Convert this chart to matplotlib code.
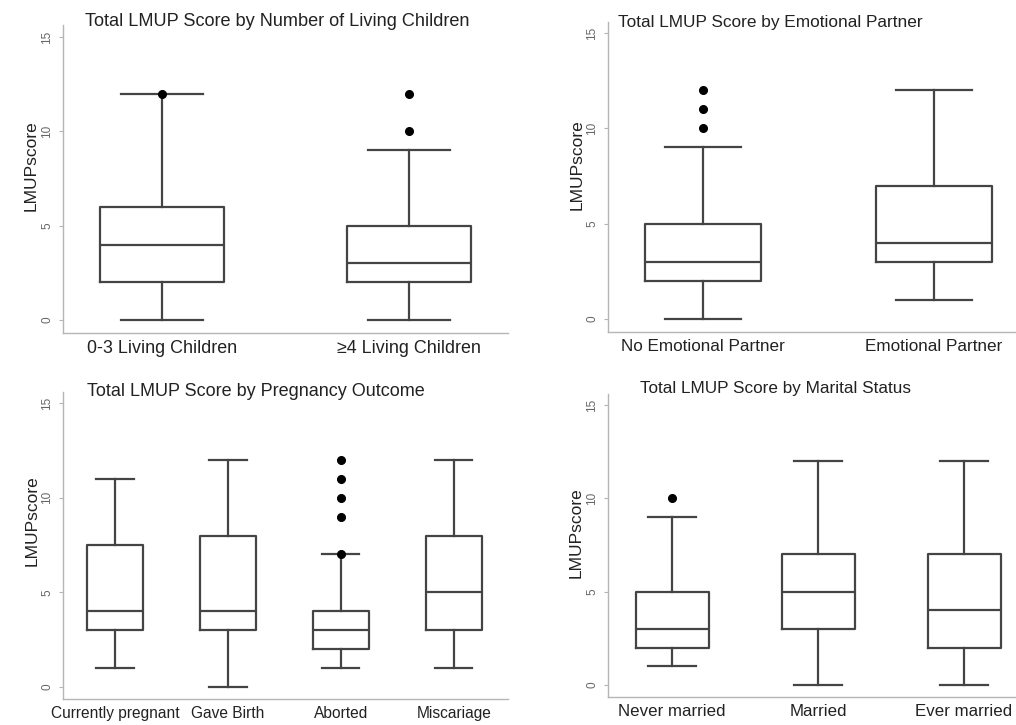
import matplotlib
matplotlib.use("Agg")
import matplotlib.pyplot as plt

plt.rcParams['font.family'] = ['Liberation Sans', 'DejaVu Sans']

# ---- Data ----
titles = [
    "Total LMUP Score by Number of Living Children",
    "Total LMUP Score by Emotional Partner",
    "Total LMUP Score by Pregnancy Outcome",
    "Total LMUP Score by Marital Status",
]

children_labels = ["0-3 Living Children", "\u22654 Living Children"]
children_whislo = [0, 0]
children_q1 = [2, 2]
children_med = [4, 3]
children_q3 = [6, 5]
children_whishi = [12, 9]
children_fliers = [[12], [10, 12]]

partner_labels = ["No Emotional Partner", "Emotional Partner"]
partner_whislo = [0, 1]
partner_q1 = [2, 3]
partner_med = [3, 4]
partner_q3 = [5, 7]
partner_whishi = [9, 12]
partner_fliers = [[10, 11, 12], []]

outcome_labels = ["Currently pregnant", "Gave Birth", "Aborted", "Miscariage"]
outcome_whislo = [1, 0, 1, 1]
outcome_q1 = [3, 3, 2, 3]
outcome_med = [4, 4, 3, 5]
outcome_q3 = [7.5, 8, 4, 8]
outcome_whishi = [11, 12, 7, 12]
outcome_fliers = [[], [], [7, 9, 10, 11, 12], []]

marital_labels = ["Never married", "Married", "Ever married"]
marital_whislo = [1, 0, 0]
marital_q1 = [2, 3, 2]
marital_med = [3, 5, 4]
marital_q3 = [5, 7, 7]
marital_whishi = [9, 12, 12]
marital_fliers = [[10], [], []]

yticks = [0, 5, 10, 15]
ylabel = "LMUPscore"

W, H = 1016, 725
fig = plt.figure(figsize=(W / 100, H / 100), dpi=100)


def px_axes(left, right, top, bottom):
    return fig.add_axes([left / W, 1 - bottom / H, (right - left) / W, (bottom - top) / H])


LINE = "#444444"
SPINE = "#b5b5b5"

panels = [
    dict(rect=(63, 508, 25, 333), xlim=(0.6, 2.4), ylim=(-0.69, 15.64),
         labels=children_labels, lo=children_whislo, q1=children_q1, med=children_med,
         q3=children_q3, hi=children_whishi, fl=children_fliers,
         tpx=(277, 22), ylab=(31, 166), tfs=13.1, xfs=12.9),
    dict(rect=(608, 1016, 22, 332), xlim=(0.589, 2.355), ylim=(-0.68, 15.58),
         labels=partner_labels, lo=partner_whislo, q1=partner_q1, med=partner_med,
         q3=partner_q3, hi=partner_whishi, fl=partner_fliers,
         tpx=(770, 23), ylab=(577, 165), tfs=12.4, xfs=12.3),
    dict(rect=(63, 508, 392, 699), xlim=(0.54, 4.48), ylim=(-0.63, 15.58),
         labels=outcome_labels, lo=outcome_whislo, q1=outcome_q1, med=outcome_med,
         q3=outcome_q3, hi=outcome_whishi, fl=outcome_fliers,
         tpx=(256, 392), ylab=(32, 521), tfs=13.0, xfs=11.2),
    dict(rect=(608, 1016, 394, 697), xlim=(0.56, 3.356), ylim=(-0.64, 15.59),
         labels=marital_labels, lo=marital_whislo, q1=marital_q1, med=marital_med,
         q3=marital_q3, hi=marital_whishi, fl=marital_fliers,
         tpx=(775, 388), ylab=(576, 533), tfs=12.3, xfs=12.2),
]

for title, p in zip(titles, panels):
    left, right, top, bottom = p["rect"]
    ax = px_axes(left, right, top, bottom)
    stats = []
    for i in range(len(p["labels"])):
        stats.append(dict(label=p["labels"][i], whislo=p["lo"][i], q1=p["q1"][i],
                          med=p["med"][i], q3=p["q3"][i], whishi=p["hi"][i],
                          fliers=p["fl"][i]))
    lw = 1.6
    ax.bxp(stats, positions=list(range(1, len(stats) + 1)), widths=0.5,
           showfliers=True,
           boxprops=dict(color=LINE, linewidth=lw),
           medianprops=dict(color=LINE, linewidth=lw),
           whiskerprops=dict(color=LINE, linewidth=lw),
           capprops=dict(color=LINE, linewidth=lw),
           capwidths=0.33,
           flierprops=dict(marker="o", markerfacecolor="black", markeredgecolor="black",
                           markersize=5.5, linestyle="none"))
    ax.set_xlim(*p["xlim"])
    ax.set_ylim(*p["ylim"])
    ax.set_yticks(yticks)
    ax.set_yticklabels([str(t) for t in yticks], rotation=90, va="center",
                       fontsize=8.5, color="#666666")
    ax.tick_params(axis="y", length=3, width=0.8, color=SPINE, pad=4)
    ax.tick_params(axis="x", length=0, labelsize=p["xfs"], colors="#222222", pad=5)
    for s in ("top", "right"):
        ax.spines[s].set_visible(False)
    for s in ("left", "bottom"):
        ax.spines[s].set_color(SPINE)
        ax.spines[s].set_linewidth(1.0)
    fig.text(p["tpx"][0] / W, 1 - p["tpx"][1] / H, title,
             ha="center", va="center", fontsize=p["tfs"], color="#222222")
    fig.text(p["ylab"][0] / W, 1 - p["ylab"][1] / H, ylabel, rotation=90,
             ha="center", va="center", fontsize=12.5, color="#222222")
    ax.set_facecolor("white")

fig.savefig("out.png", dpi=100, facecolor="white")
